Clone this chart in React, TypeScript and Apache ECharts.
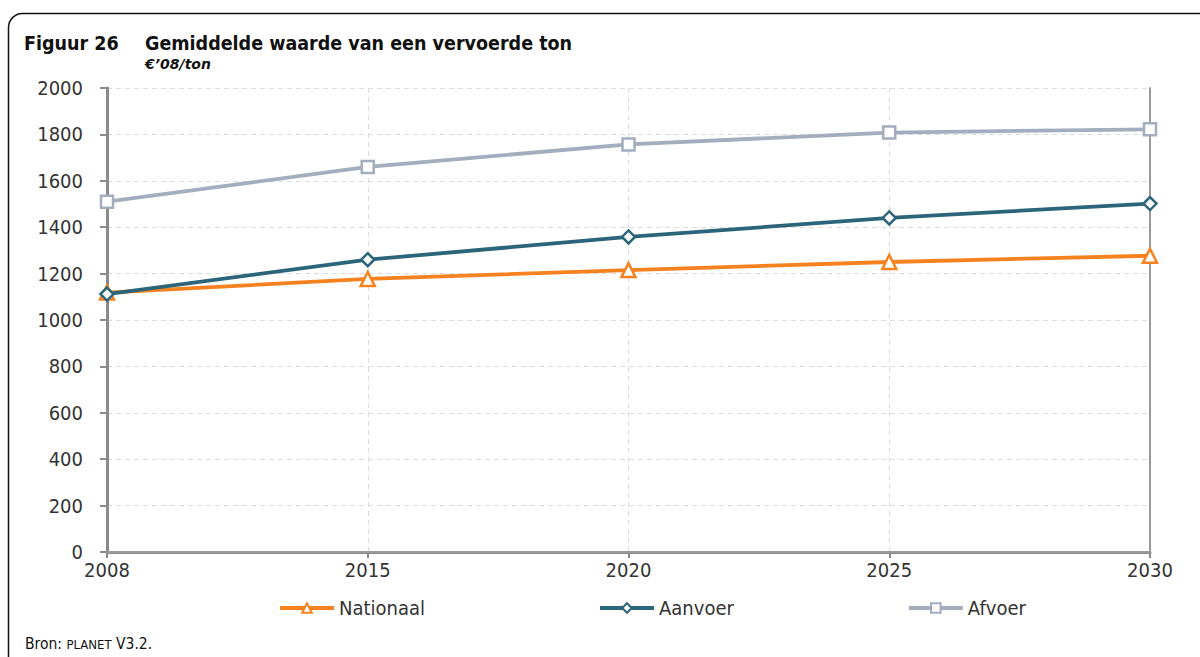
import React, { useEffect, useRef } from "react";
import * as echarts from "echarts";

const years = ["2008", "2015", "2020", "2025", "2030"];
const nationaal = [1118, 1177, 1215, 1250, 1277];
const aanvoer = [1112, 1260, 1358, 1440, 1502];
const afvoer = [1510, 1660, 1757, 1808, 1822];
const seriesNames = ["Nationaal", "Aanvoer", "Afvoer"];
const colors = ["#F5821F", "#2B6579", "#A2AEBD"];
const yTicks = { min: 0, max: 2000, interval: 200 };

const FONT = "'DejaVu Sans Condensed', 'DejaVu Sans', sans-serif";
const FONT_W = "'DejaVu Sans', sans-serif";

export default function App() {
  const ref = useRef<HTMLDivElement>(null);
  useEffect(() => {
    if (!ref.current) return;
    const chart = echarts.init(ref.current, undefined, { renderer: "svg" });
    const mk = (name: string, data: number[], color: string, symbol: string, size: number) => ({
      name,
      type: "line",
      data,
      symbol,
      symbolSize: size,
      showAllSymbol: true,
      xAxisIndex: 0,
      yAxisIndex: 0,
      lineStyle: { color, width: 3.8 },
      itemStyle: { color: "#fff", borderColor: color, borderWidth: 2.5 },
      z: 5,
    });
    const borderAxisLine = { show: true, lineStyle: { color: "#9a9a9a", width: 2 } };
    chart.setOption({
      animation: false,
      textStyle: { fontFamily: FONT },
      graphic: [
        {
          type: "rect",
          shape: { x: 8.5, y: 13.5, width: 1300, height: 800, r: 14 },
          style: { fill: "none", stroke: "#111", lineWidth: 1.5 },
          silent: true,
        },
        {
          type: "text",
          left: 24,
          top: 33,
          style: { text: "Figuur 26", font: `bold 19.5px ${FONT}`, fill: "#111" },
        },
        {
          type: "text",
          left: 145,
          top: 33,
          style: { text: "Gemiddelde waarde van een vervoerde ton", font: `bold 19.5px ${FONT}`, fill: "#111" },
        },
        {
          type: "text",
          left: 145,
          top: 57,
          style: { text: "€’08/ton", font: `italic bold 14px ${FONT_W}`, fill: "#111" },
        },
        {
          type: "text",
          left: 25,
          top: 636,
          style: {
            rich: {
              a: { font: `15.5px ${FONT}`, fill: "#111" },
              b: { font: `13px ${FONT}`, fill: "#111" },
            },
            text: "{a|Bron: }{b|PLANET}{a| V3.2.}",
          },
        },
      ],
      grid: {
        left: 107,
        right: 50,
        top: 88,
        bottom: 105,
        containLabel: false,
      },
      legend: {
        left: 273,
        top: 593,
        itemWidth: 54,
        itemHeight: 12,
        itemGap: 173,
        data: seriesNames,
        lineStyle: { width: 4 },
        textStyle: { fontFamily: FONT, fontSize: 20, color: "#333" },
      },
      xAxis: [
        {
          type: "category",
          data: years,
          boundaryGap: false,
          axisLine: { lineStyle: { color: "#8a8a8a", width: 3 } },
          axisTick: { show: true, length: 6, lineStyle: { color: "#8a8a8a", width: 2 } },
          axisLabel: { fontFamily: FONT, fontSize: 20, color: "#333", margin: 8 },
          splitLine: { show: true, lineStyle: { color: "#dcdcdc", type: [5, 4], width: 1 } },
          z: 2,
        },
        {
          type: "category",
          data: years,
          boundaryGap: false,
          position: "top",
          axisLine: borderAxisLine,
          axisTick: { show: false },
          axisLabel: { show: false },
          splitLine: { show: false },
          z: 3,
        },
      ],
      yAxis: [
        {
          type: "value",
          min: yTicks.min,
          max: yTicks.max,
          interval: yTicks.interval,
          axisLine: { show: true, lineStyle: { color: "#8a8a8a", width: 3 } },
          axisTick: { show: true, length: 7, lineStyle: { color: "#8a8a8a", width: 2 } },
          axisLabel: {
            fontFamily: FONT,
            fontSize: 20,
            color: "#333",
            margin: 24,
            formatter: (v: number) => String(v),
          },
          splitLine: { show: true, lineStyle: { color: "#dcdcdc", type: [5, 4], width: 1 } },
          z: 2,
        },
        {
          type: "value",
          min: yTicks.min,
          max: yTicks.max,
          interval: yTicks.interval,
          position: "right",
          axisLine: borderAxisLine,
          axisTick: { show: false },
          axisLabel: { show: false },
          splitLine: { show: false },
          z: 3,
        },
      ],
      series: [
        mk(seriesNames[0], nationaal, colors[0], "triangle", 14),
        mk(seriesNames[1], aanvoer, colors[1], "diamond", 13),
        mk(seriesNames[2], afvoer, colors[2], "rect", 12),
      ],
    });
    return () => chart.dispose();
  }, []);
  return <div ref={ref} style={{ width: 1200, height: 657, position: "absolute", left: 0, top: 0 }} />;
}
